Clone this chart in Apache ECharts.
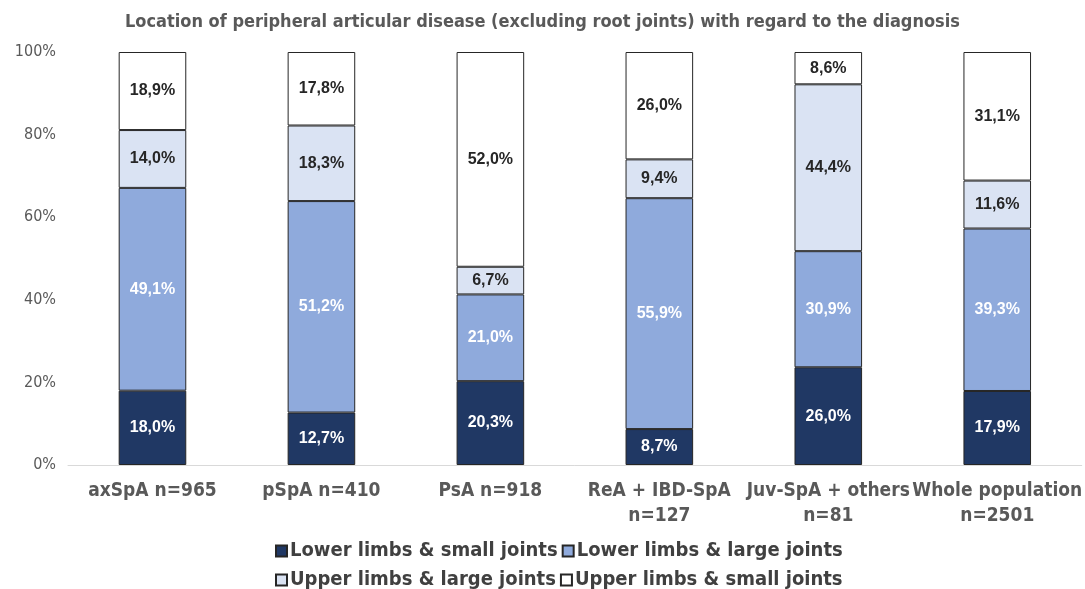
<!DOCTYPE html>
<html>
<head>
<meta charset="utf-8">
<script src="https://cdn.jsdelivr.net/npm/echarts@6/dist/echarts.min.js"></script>
<style>
  html, body { margin: 0; padding: 0; background: #fff; }
  #chart { width: 1085px; height: 589px; }
</style>
</head>
<body>
<div id="chart"></div>
<script>
// categories (x axis)
const categories = ['axSpA n=965', 'pSpA n=410', 'PsA n=918', 'ReA + IBD-SpA\nn=127', 'Juv-SpA + others\nn=81', 'Whole population\nn=2501']

// values as printed on the bars (%)
const lowerSmall = [18.0, 12.7, 20.3, 8.7, 26.0, 17.9]
const lowerLarge = [49.1, 51.2, 21.0, 55.9, 30.9, 39.3]
const upperLarge = [14.0, 18.3, 6.7, 9.4, 44.4, 11.6]
const upperSmall = [18.9, 17.8, 52.0, 26.0, 8.6, 31.1]

const seriesNames = ['Lower limbs & small joints', 'Lower limbs & large joints', 'Upper limbs & large joints', 'Upper limbs & small joints']
const yTicks = [0, 20, 40, 60, 80, 100]

const colors = ['#203864', '#8faadc', '#dae3f3', '#ffffff']
const labelColors = ['#ffffff', '#ffffff', '#262626', '#262626']

const narrow = '"Liberation Sans Narrow", "DejaVu Sans Condensed", sans-serif'

// 100% stacked: each bar is scaled to its own total
const raw = [lowerSmall, lowerLarge, upperLarge, upperSmall]
const totals = categories.map((c, i) => raw.reduce((s, arr) => s + arr[i], 0))

const chart = echarts.init(document.getElementById('chart'))

const legendText = { fontFamily: narrow, fontSize: 20, fontWeight: 'bold', color: '#404040', padding: [0, 0, 0, -2] }

const option = {
  animation: false,
  title: {
    text: 'Location of peripheral articular disease (excluding root joints) with regard to the diagnosis',
    left: 'center',
    top: 8,
    textStyle: { fontFamily: narrow, fontSize: 18, fontWeight: 'bold', color: '#595959' }
  },
  legend: [
    {
      data: seriesNames.slice(0, 2),
      top: 536,
      left: 270,
      itemWidth: 11,
      itemHeight: 11,
      itemGap: 4,
      icon: 'rect',
      textStyle: legendText
    },
    {
      data: seriesNames.slice(2),
      top: 565,
      left: 270,
      itemWidth: 11,
      itemHeight: 11,
      itemGap: 4,
      icon: 'rect',
      textStyle: legendText
    }
  ],
  grid: { left: 68, right: 1, top: 52, bottom: 124 },
  xAxis: {
    type: 'category',
    data: categories,
    axisTick: { show: false },
    axisLine: { lineStyle: { color: '#d9d9d9', width: 1 } },
    axisLabel: {
      fontFamily: narrow, fontSize: 19, fontWeight: 'bold', color: '#595959',
      margin: 14, lineHeight: 25, interval: 0
    }
  },
  yAxis: {
    type: 'value',
    min: 0,
    max: 100,
    interval: 20,
    splitLine: { show: false },
    axisLine: { show: false },
    axisLabel: {
      fontFamily: narrow, fontSize: 16, color: '#595959', margin: 12,
      formatter: v => yTicks.includes(v) ? v + '%' : ''
    }
  },
  series: raw.map((arr, k) => ({
    name: seriesNames[k],
    type: 'bar',
    stack: 'total',
    barWidth: '40%',
    data: arr.map((v, i) => ({ value: v / totals[i] * 100, raw: v })),
    itemStyle: { color: colors[k], borderColor: '#262626', borderWidth: 1 },
    label: {
      show: true,
      position: 'inside',
      fontFamily: '"Liberation Sans", Arial, sans-serif',
      fontSize: 16,
      fontWeight: 'bold',
      color: labelColors[k],
      formatter: p => p.data.raw.toFixed(1).replace('.', ',') + '%'
    }
  }))
}

chart.setOption(option)
</script>
</body>
</html>
